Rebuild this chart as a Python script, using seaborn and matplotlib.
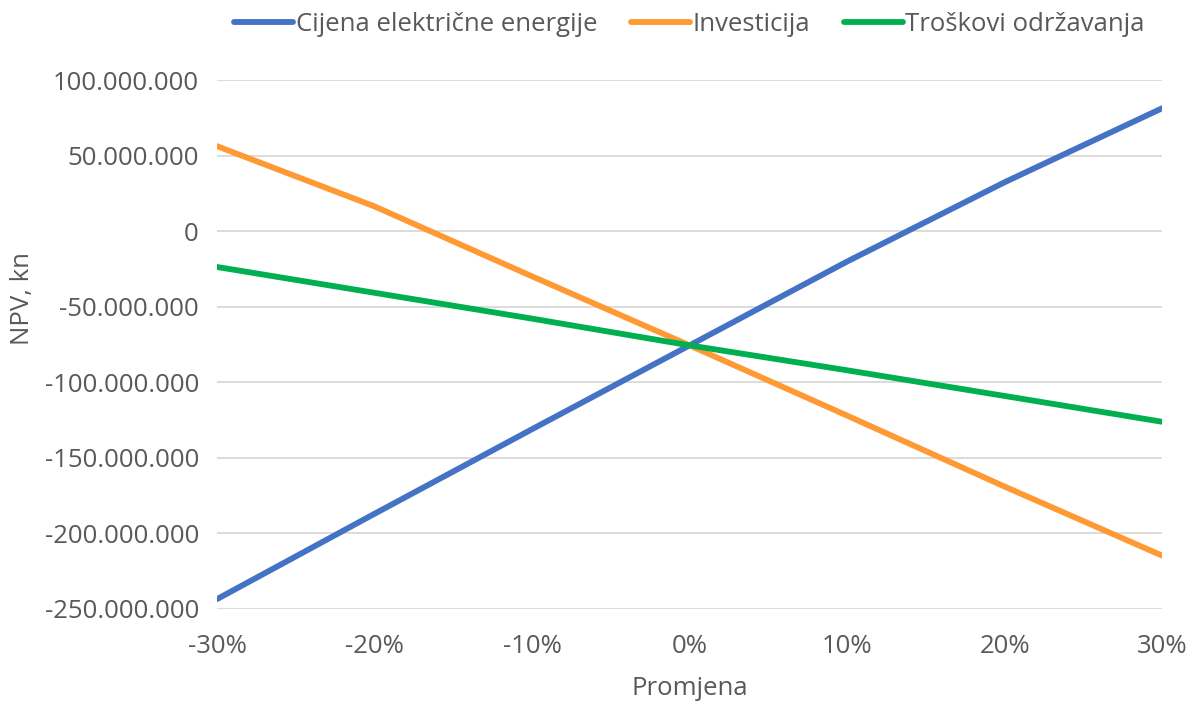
import matplotlib
matplotlib.use("Agg")
import matplotlib.pyplot as plt
from matplotlib.ticker import FuncFormatter, MultipleLocator
import seaborn as sns
import pandas as pd

# Sensitivity analysis of NPV (kn) for relative change of each input
promjena = [-30, -20, -10, 0, 10, 20, 30]
cijena_el_energije = [-243.5e6, -187.0e6, -131.0e6, -75.5e6, -20.0e6, 32.5e6, 81.5e6]
investicija = [56.4e6, 16.5e6, -29.8e6, -75.5e6, -122.0e6, -169.0e6, -214.7e6]
troskovi_odrzavanja = [-23.6e6, -40.7e6, -57.8e6, -75.5e6, -92.0e6, -109.0e6, -126.1e6]

series_names = ["Cijena električne energije", "Investicija", "Troškovi održavanja"]
colors = ["#4472C4", "#FF9933", "#00B050"]

df = pd.DataFrame({
    "Promjena": promjena * 3,
    "NPV": cijena_el_energije + investicija + troskovi_odrzavanja,
    "Serija": [series_names[0]] * 7 + [series_names[1]] * 7 + [series_names[2]] * 7,
})

sns.set_theme(style="white")
plt.rcParams["font.family"] = ["Open Sans", "DejaVu Sans"]

fig = plt.figure(figsize=(11.92, 7.04), dpi=100)
ax = fig.add_axes([0.182, 0.135, 0.793, 0.751])

sns.lineplot(data=df, x="Promjena", y="NPV", hue="Serija", palette=colors,
             linewidth=4.2, ax=ax, legend=True)
for line in ax.get_lines():
    line.set_solid_capstyle("round")

ax.set_xlim(-30, 30)
ax.set_ylim(-250e6, 100e6)
ax.yaxis.set_major_locator(MultipleLocator(50e6))
ax.xaxis.set_major_locator(MultipleLocator(10))

def fmt_y(v, pos):
    if abs(v) < 1:
        return "0"
    s = f"{abs(v):,.0f}".replace(",", ".")
    return ("-" if v < 0 else "") + s

ax.yaxis.set_major_formatter(FuncFormatter(fmt_y))
ax.xaxis.set_major_formatter(FuncFormatter(lambda v, p: f"{v:.0f}%"))

ax.grid(axis="y", color="#d9d9d9", linewidth=1.3)
ax.grid(axis="x", visible=False)
ax.set_axisbelow(True)
for s in ax.spines.values():
    s.set_visible(False)

text_color = "#595959"
fs = 18.5
ax.tick_params(axis="both", length=0, labelsize=fs, colors=text_color)
ax.tick_params(axis="y", pad=13)
ax.tick_params(axis="x", pad=18)
ax.set_xlabel("Promjena", fontsize=fs, color=text_color, labelpad=12)
ax.set_ylabel("NPV, kn", fontsize=fs, color=text_color)
ax.yaxis.set_label_coords(-0.193, 0.588)

handles, labels = ax.get_legend_handles_labels()
leg = ax.legend(handles, labels, loc="upper center", bbox_to_anchor=(0.5, 1.172),
                ncol=3, frameon=False, fontsize=fs, handlelength=2.3,
                handletextpad=0.1, columnspacing=1.3, labelcolor=text_color)
for h in leg.get_lines():
    h.set_linewidth(4.2)

fig.savefig("out.png", dpi=100)
